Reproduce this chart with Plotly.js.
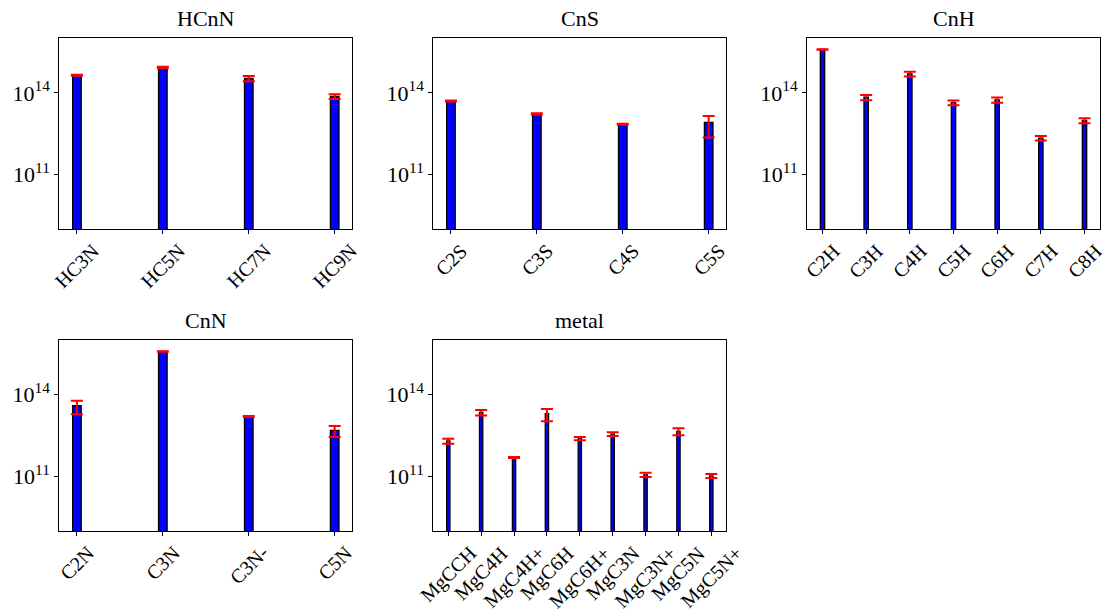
<!DOCTYPE html>
<html>
<head>
<meta charset="utf-8">
<script src="https://cdn.plot.ly/plotly-3.0.1.min.js"></script>
<style>html,body{margin:0;padding:0;background:#fff;}#chart{width:1102px;height:611px;}</style>
</head>
<body>
<div id="chart"></div>
<script>
// ---- data ----
const panelTitles = ["HCnN", "CnS", "CnH", "CnN", "metal"];

const hcnnNames  = ["HC3N", "HC5N", "HC7N", "HC9N"];
const hcnnValues = [4.4e14, 8.5e14, 3.4e14, 7.4e13];
const hcnnErrors = [0.2e14, 0.5e14, 0.75e14, 1.5e13];

const cnsNames  = ["C2S", "C3S", "C4S", "C5S"];
const cnsValues = [5.0e13, 1.7e13, 7.1e12, 8.3e12];
const cnsErrors = [0.2e13, 0.08e13, 0.3e12, 6.0e12];

const cnhNames  = ["C2H", "C3H", "C4H", "C5H", "C6H", "C7H", "C8H"];
const cnhValues = [3.9e15, 6.9e13, 5.0e14, 4.4e13, 5.5e13, 2.2e12, 9.7e12];
const cnhErrors = [0.1e15, 1.5e13, 1.0e14, 0.85e13, 1.2e13, 0.4e12, 2.0e12];

const cnnNames  = ["C2N", "C3N", "C3N-", "C5N"];
const cnnValues = [3.9e13, 3.8e15, 1.57e13, 4.9e12];
const cnnErrors = [2.0e13, 0.1e15, 0.06e13, 2.1e12];

const metalNames  = ["MgCCH", "MgC4H", "MgC4H+", "MgC6H", "MgC6H+", "MgC3N", "MgC3N+", "MgC5N", "MgC5N+"];
const metalValues = [2.0e12, 2.2e13, 4.9e11, 2.0e13, 2.45e12, 3.6e12, 1.15e11, 4.5e12, 1.05e11];
const metalErrors = [0.42e12, 0.5e13, 0.2e11, 0.95e13, 0.35e12, 0.6e12, 0.2e11, 1.3e12, 0.18e11];

const yTickVals = [1e11, 1e14];
const yTickText = ["10<sup>11</sup>", "10<sup>14</sup>"];

// ---- layout helpers ----
const W = 1102, H = 611;
const FONT = "'Liberation Serif', 'Times New Roman', serif";
const xDomains = [[59.3, 352.3], [433.3, 726.3], [807, 1100], [59.3, 352.3], [433.3, 726.3]];
const yDomains = [[38.3, 229.3], [38.3, 229.3], [38.3, 229.3], [340, 531], [340, 531]];

const groups = [
  [hcnnNames, hcnnValues, hcnnErrors],
  [cnsNames, cnsValues, cnsErrors],
  [cnhNames, cnhValues, cnhErrors],
  [cnnNames, cnnValues, cnnErrors],
  [metalNames, metalValues, metalErrors]
];

const data = [];
const layout = {
  width: W, height: H,
  margin: {l: 0, r: 0, t: 0, b: 0},
  paper_bgcolor: "#fff", plot_bgcolor: "#fff",
  showlegend: false,
  font: {family: FONT, color: "#000"},
  annotations: []
};

groups.forEach((g, i) => {
  const [names, vals, errs] = g;
  const k = i + 1;
  const xa = "x" + (k === 1 ? "" : k), ya = "y" + (k === 1 ? "" : k);
  data.push({
    type: "bar",
    x: names, y: vals,
    xaxis: xa, yaxis: ya,
    width: 0.1,
    marker: {color: "#0000ff", line: {color: "#000", width: 1.3}},
    error_y: {type: "data", array: errs, visible: true, color: "#ff0000", thickness: 2, width: 6}
  });
  const n = names.length;
  const span = (n - 1) + 0.1;
  const pad = 0.05 * span;
  const xd = xDomains[i], yd = yDomains[i];
  layout["xaxis" + (k === 1 ? "" : k)] = {
    domain: [xd[0] / W, xd[1] / W],
    anchor: ya,
    type: "category",
    range: [-0.05 - pad, n - 1 + 0.05 + pad],
    showticklabels: false,
    ticks: "outside", ticklen: 4, tickwidth: 1, tickcolor: "#000",
    showline: true, linecolor: "#000", linewidth: 1, mirror: true,
    showgrid: false, zeroline: false, fixedrange: true
  };
  layout["yaxis" + (k === 1 ? "" : k)] = {
    domain: [1 - yd[1] / H, 1 - yd[0] / H],
    anchor: xa,
    type: "log",
    range: [9, 16],
    tickvals: yTickVals, ticktext: yTickText,
    tickfont: {family: FONT, size: 22, color: "#000"},
    ticks: "outside", ticklen: 4, tickwidth: 1, tickcolor: "#000",
    showline: true, linecolor: "#000", linewidth: 1, mirror: true,
    showgrid: false, zeroline: false, fixedrange: true
  };
  // panel title
  layout.annotations.push({
    text: panelTitles[i], xref: "paper", yref: "paper",
    x: (xd[0] + xd[1]) / 2 / W, y: 1 - (yd[0] - 5) / H,
    xanchor: "center", yanchor: "bottom", showarrow: false,
    font: {family: FONT, size: 22, color: "#000"}
  });
  // rotated category labels centred on ticks
  names.forEach(nm => {
    layout.annotations.push({
      text: nm, xref: xa, yref: "paper",
      x: nm, y: 1 - (yd[1] + 8) / H,
      xanchor: "center", yanchor: "top", textangle: -45, showarrow: false,
      font: {family: FONT, size: 20, color: "#000"}
    });
  });
});

Plotly.newPlot("chart", data, layout, {staticPlot: true, displayModeBar: false});
</script>
</body>
</html>
